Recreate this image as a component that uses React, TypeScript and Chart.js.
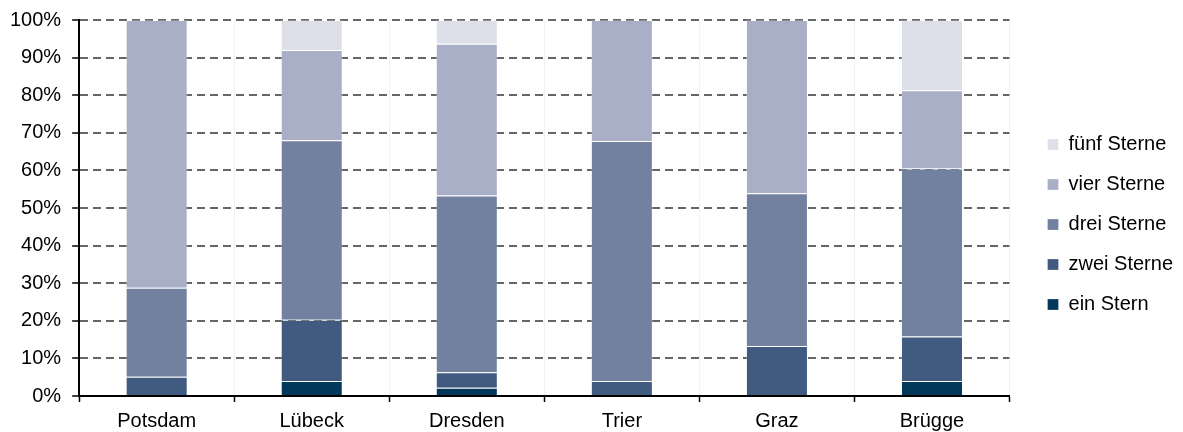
import React, { useEffect, useRef } from "react";
import { Chart, registerables } from "chart.js";

Chart.register(...registerables);

const categories = ["Potsdam", "Lübeck", "Dresden", "Trier", "Graz", "Brügge"];
const einStern = [0, 4, 2.2, 0, 0, 4];
const zweiSterne = [5.1, 16.3, 4.1, 4, 13.3, 11.8];
const dreiSterne = [23.7, 47.7, 47, 63.8, 40.6, 44.7];
const vierSterne = [71.2, 24, 40.4, 32.2, 46.1, 20.8];
const fuenfSterne = [0, 8, 6.3, 0, 0, 18.7];
const seriesNames = ["ein Stern", "zwei Sterne", "drei Sterne", "vier Sterne", "fünf Sterne"];
const seriesColors = ["#02385a", "#405a80", "#72819f", "#aaafc8", "#dde0e9"];
const yTicks = [0, 10, 20, 30, 40, 50, 60, 70, 80, 90, 100];

const FONT = "'Liberation Sans', Arial, sans-serif";

export default function App() {
  const ref = useRef<HTMLCanvasElement | null>(null);
  useEffect(() => {
    document.body.style.margin = "0";
    const values = [einStern, zweiSterne, dreiSterne, vierSterne, fuenfSterne];
    const chart = new Chart(ref.current as HTMLCanvasElement, {
      type: "bar",
      data: {
        labels: categories,
        datasets: values.map((v, i) => ({
          label: seriesNames[i],
          data: v,
          backgroundColor: seriesColors[i],
          borderColor: "rgba(255,255,255,0.25)",
          borderWidth: 1,
          barPercentage: 1,
          categoryPercentage: 0.4,
          yAxisID: "y",
        })),
      },
      options: {
        animation: false,
        responsive: true,
        maintainAspectRatio: false,
        layout: { padding: { top: 0, left: -1, right: 0, bottom: -8 } },
        plugins: {
          tooltip: { enabled: false },
          legend: {
            position: "right",
            reverse: true,
            title: { display: true, text: "", padding: 0, font: { size: 7.5 } },
            labels: {
              boxWidth: 11,
              boxHeight: 11,
              padding: 20,
              color: "#000",
              font: { family: FONT, size: 20 },
            },
          },
        },
        scales: {
          x: {
            stacked: true,
            grid: {
              color: "#f2f2f2",
              lineWidth: 1,
              offset: true,
              drawTicks: true,
              tickLength: 6,
              tickColor: "#000",
              tickWidth: 1.5,
            },
            border: { display: true, color: "#000", width: 2 },
            ticks: { color: "#000", padding: 7, font: { family: FONT, size: 20 } },
          },
          y: {
            stacked: true,
            min: 0,
            max: 100,
            afterBuildTicks: (s: any) => {
              s.ticks = yTicks.map((v) => ({ value: v }));
            },
            afterFit: (s: any) => {
              s.paddingTop = 20;
            },
            grid: {
              color: "#666",
              lineWidth: 2,
              drawTicks: true,
              tickLength: 7,
              tickColor: "#000",
              tickWidth: 1.5,
              tickBorderDash: [],
            },
            border: { display: true, color: "#000", width: 2, dash: [8, 5] },
            ticks: {
              color: "#000",
              padding: 11,
              font: { family: FONT, size: 20 },
              callback: (v: any) => v + "%",
            },
          },
          yR: {
            type: "linear",
            position: "right",
            display: true,
            grid: { display: false, drawTicks: false },
            border: { display: false },
            ticks: { display: false },
            afterFit: (s: any) => {
              s.width = 18;
            },
          },
        },
      },
    } as any);
    return () => chart.destroy();
  }, []);
  return (
    <div style={{ width: 1183, height: 432, position: "relative" }}>
      <canvas ref={ref} />
    </div>
  );
}
